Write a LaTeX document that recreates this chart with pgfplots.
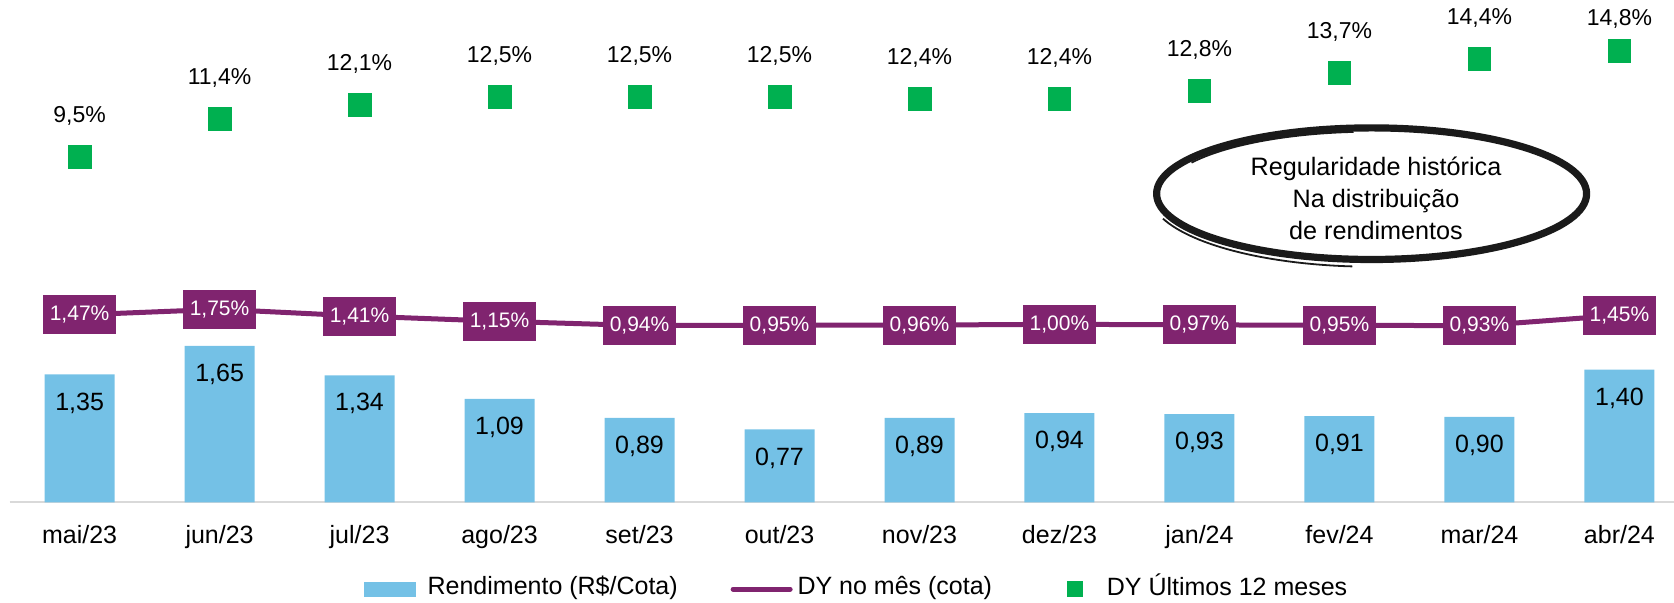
\documentclass[border=0pt]{standalone}
\usepackage{pgfplots}
\pgfplotsset{compat=1.18}
\usepackage{fontspec}
\setmainfont{Liberation Sans}
\definecolor{barblue}{HTML}{74C1E6}
\definecolor{dypurple}{HTML}{80246F}
\definecolor{dygreen}{HTML}{00B050}
\definecolor{baseln}{HTML}{D9D9D9}
\definecolor{ink}{HTML}{1A1A1A}
\pgfplotsset{
  common/.style={scale only axis, width=832.2pt, height=251.15pt, xmin=-0.5, xmax=11.39, clip=false},
}
\begin{document}
\begin{tikzpicture}
\useasboundingbox (-4.8pt,-50.35pt) rectangle (832.2pt,251.15pt);
% bars: Rendimento (R$/Cota)
\begin{axis}[common, ymin=0, ymax=5.298,
  axis line style={draw=none}, ytick=\empty,
  xtick={0,...,11},
  xticklabels={mai/23,jun/23,jul/23,ago/23,set/23,out/23,nov/23,dez/23,jan/24,fev/24,mar/24,abr/24},
  major tick length=0pt,
  xticklabel style={font=\fontsize{12.5}{15}\selectfont, anchor=base, yshift=-20.85pt},
  legend columns=3,
  legend cell align=left,
  legend style={at={(0.2127,-0.1675)}, anchor=west, draw=none, fill=none, inner sep=0pt, outer sep=0pt,
     font=\fontsize{12.5}{15}\selectfont, nodes={inner sep=0pt, outer sep=0pt},
     /tikz/every even column/.style={column sep=0pt}, /tikz/every odd column/.style={column sep=0pt}},
]
\draw[baseln, line width=1pt] (rel axis cs:0,0) -- (rel axis cs:1,0);
\addplot[ybar, bar width=35pt, fill=barblue, draw=none,
  nodes near coords={\pgfmathprintnumber[use comma,fixed,fixed zerofill,precision=2,assume math mode=true]{\pgfplotspointmeta}},
  every node near coord/.append style={anchor=center, yshift=-14.3pt, text=black, font=\fontsize{12.5}{15}\selectfont},
  legend image code/.code={\fill[barblue] (0pt,-5.1pt) rectangle (26pt,2.4pt); \path (32pt,0pt);},
] coordinates {(0,1.35) (1,1.65) (2,1.34) (3,1.09) (4,0.89) (5,0.77) (6,0.89) (7,0.94) (8,0.93) (9,0.91) (10,0.90) (11,1.40)};
\addlegendentry{Rendimento (R\$/Cota)}
\addlegendimage{legend image code/.code={\path (-27.5pt,0pt); \draw[dypurple, line width=2.5pt, line cap=round] (0pt,-1.4pt) -- (28.5pt,-1.4pt); \path (32pt,0pt);}}
\addlegendentry{DY no mês (cota)}
\addlegendimage{legend image code/.code={\path (-37.5pt,0pt); \fill[dygreen] (0pt,-5.1pt) rectangle (7.5pt,2.4pt); \path (19.5pt,0pt);}}
\addlegendentry{DY Últimos 12 meses}
\end{axis}
% green: DY ultimos 12 meses
\begin{axis}[common, ymin=-7.78, ymax=17.335, hide axis]
\addplot[only marks, mark=square*, mark size=5.7pt, color=dygreen,
  nodes near coords={\pgfmathprintnumber[use comma,fixed,fixed zerofill,precision=1,assume math mode=true]{\pgfplotspointmeta}\%},
  every node near coord/.append style={anchor=center, yshift=20.2pt, text=black, font=\fontsize{11.5}{14}\selectfont},
  coordinate style/.condition={\coordindex==11}{yshift=-4.4pt},
] coordinates {(0,9.5) (1,11.4) (2,12.1) (3,12.5) (4,12.5) (5,12.5) (6,12.4) (7,12.4) (8,12.8) (9,13.7) (10,14.4) (11,14.8)};
\end{axis}
% purple: DY no mes
\begin{axis}[common, ymin=-7.9, ymax=17.215, hide axis]
\addplot[color=dypurple, line width=2.5pt, mark=none,
  nodes near coords={\pgfmathprintnumber[use comma,fixed,fixed zerofill,precision=2,assume math mode=true]{\pgfplotspointmeta}\%},
  every node near coord/.append style={anchor=center, fill=dypurple, text=white, minimum width=36.5pt, minimum height=19.5pt, inner sep=0pt, font=\fontsize{10.5}{12}\selectfont},
] coordinates {(0,1.47) (1,1.75) (2,1.41) (3,1.15) (4,0.94) (5,0.95) (6,0.96) (7,1.00) (8,0.97) (9,0.95) (10,0.93) (11,1.45)};
\end{axis}
% annotation
\draw[ink, line width=3.6pt] (681pt,154.3pt) ellipse [x radius=107.5pt, y radius=32.9pt];
\draw[ink, line width=0.9pt] (681pt,154.3pt) ++(95:104pt and 31pt) arc[start angle=95, end angle=150, x radius=104pt, y radius=31pt];
\draw[ink, line width=0.9pt] (681pt,154.3pt) ++(200:111pt and 36.5pt) arc[start angle=200, end angle=265, x radius=111pt, y radius=36.5pt];
\node[align=center, font=\fontsize{12.6}{16.1}\selectfont, text=black] at (683.2pt,152pt) {Regularidade histórica\\Na distribuição\\de rendimentos};
\end{tikzpicture}
\end{document}
